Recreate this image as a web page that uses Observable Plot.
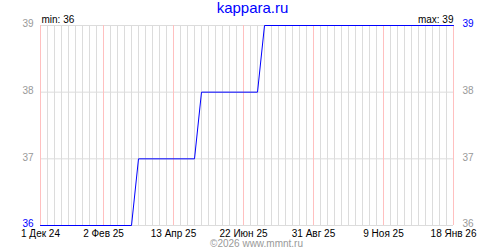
<!DOCTYPE html>
<html><head><meta charset="utf-8">
<script src="https://cdn.jsdelivr.net/npm/d3@7"></script>
<script src="https://cdn.jsdelivr.net/npm/@observablehq/plot@0.6"></script>
<style>body{margin:0;background:#fff}svg{display:block}</style>
</head><body><div id="chart"></div>
<script>
const titleText = "kappara.ru";
const copyright = "©2026 www.mmnt.ru";
const stepDates = ["2024-12-01","2025-03-02","2025-03-09","2025-05-04","2025-05-11","2025-07-06","2025-07-13","2026-01-18"];
const stepValues = [36,36,37,37,38,38,39,39];
const tickDates = ["2024-12-01","2025-02-02","2025-04-13","2025-06-22","2025-08-31","2025-11-09","2026-01-18"];
const tickLabels = ["1 Дек 24","2 Фев 25","13 Апр 25","22 Июн 25","31 Авг 25","9 Ноя 25","18 Янв 26"];
const yTicks = [36,37,38,39];
const minVal = 36, maxVal = 39;

const data = stepDates.map((d,i)=>({date:new Date(d), v:stepValues[i]}));
const ticks = tickDates.map(d=>new Date(d));
const start = ticks[0], end = ticks[ticks.length-1];
const weeks = d3.utcWeek.range(start, d3.utcDay.offset(end,1));
const font = "Liberation Sans, Arial, sans-serif";

const chart = Plot.plot({
  width: 500, height: 250,
  marginLeft: 40, marginRight: 47, marginTop: 25, marginBottom: 25,
  style: {fontFamily: font, fontSize: "10px", background: "#fff"},
  x: {type: "utc", domain: [start, end], axis: null},
  y: {domain: [36, 39], axis: null},
  marks: [
    Plot.ruleX(weeks, {stroke: "#dcdcdc", strokeWidth: 1}),
    Plot.ruleY(yTicks, {stroke: "#dcdcdc", strokeWidth: 1}),
    Plot.ruleX(ticks, {stroke: "#ffc0c0", strokeWidth: 1}),
    Plot.line(data, {x: "date", y: "v", stroke: "#0000ff", strokeWidth: 1}),
    Plot.text(yTicks, {x: () => start, y: d => d, text: d => String(d), dx: -7, dy: -1.5, textAnchor: "end", fill: d => d === minVal ? "#0000ff" : "#999999"}),
    Plot.text(yTicks, {x: () => end, y: d => d, text: d => String(d), dx: 9, dy: -1.5, textAnchor: "start", fill: d => d === maxVal ? "#0000ff" : "#999999"}),
    Plot.text(ticks, {x: d => d, text: (d,i) => tickLabels[i], frameAnchor: "bottom", lineAnchor: "bottom", dy: 11, fill: "#000"}),
    Plot.text([titleText], {frameAnchor: "top", lineAnchor: "bottom", dy: -12.5, dx: 5.5, fill: "#0000ff", fontSize: 15}),
    Plot.text(["min: " + minVal], {frameAnchor: "top-left", textAnchor: "start", lineAnchor: "bottom", dy: -2.5, dx: 1, fill: "#000"}),
    Plot.text(["max: " + maxVal], {frameAnchor: "top-right", textAnchor: "end", lineAnchor: "bottom", dy: -2.5, dx: 0, fill: "#000"}),
    Plot.text([copyright], {frameAnchor: "bottom", lineAnchor: "bottom", dy: 21, dx: 9.5, fill: "#999999"})
  ]
});
document.getElementById("chart").appendChild(chart);
</script></body></html>
